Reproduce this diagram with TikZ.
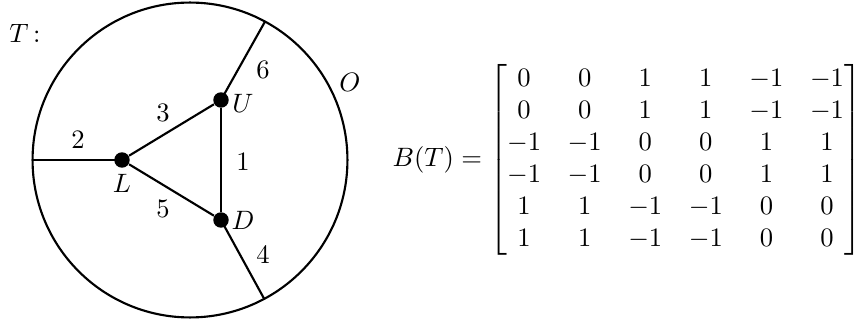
\documentclass[tikz,border=0pt]{standalone}
\usepackage{amsmath}
\begin{document}
\begin{tikzpicture}[x=0.376pt,y=-0.376pt,
  edge/.style={line width=0.8pt},
  vdot/.style={circle,fill=black,inner sep=0pt,minimum size=5.8pt},
  lab/.style={inner sep=0pt}]
\useasboundingbox (0,0) rectangle (856,324);
\coordinate (C) at (190,160);
\draw[edge] (C) circle [radius=59.2pt];
\node[vdot] (L) at (122,160) {};
\node[vdot] (U) at (221,100) {};
\node[vdot] (D) at (221,220) {};
\coordinate (E2) at (31.5,160);
\coordinate (E6) at (265,21.6);
\coordinate (E4) at (264,298.5);
\draw[edge] (L) -- (U);
\draw[edge] (U) -- (D);
\draw[edge] (D) -- (L);
\draw[edge] (L.center) -- (E2);
\draw[edge] (U.center) -- (E6);
\draw[edge] (D.center) -- (E4);
\node[lab] (tT) at (25,33) {$T$\,:};
\node[lab] (tO) at (350,82) {$O$};
\node[lab] (tU) at (243,103) {$U$};
\node[lab] (tL) at (122,183) {$L$};
\node[lab] (tD) at (243,220) {$D$};
\node[lab] (t1) at (243,162) {$1$};
\node[lab] (t2) at (78,140) {$2$};
\node[lab] (t3) at (163,113) {$3$};
\node[lab] (t4) at (263,255) {$4$};
\node[lab] (t5) at (163,209) {$5$};
\node[lab] (t6) at (263,70) {$6$};
\node[anchor=west,inner sep=0pt] (M) at (392,160) {$B(T)=\begin{bmatrix}
0&0&1&1&-1&-1\\
0&0&1&1&-1&-1\\
-1&-1&0&0&1&1\\
-1&-1&0&0&1&1\\
1&1&-1&-1&0&0\\
1&1&-1&-1&0&0
\end{bmatrix}$};
\end{tikzpicture}
\end{document}
